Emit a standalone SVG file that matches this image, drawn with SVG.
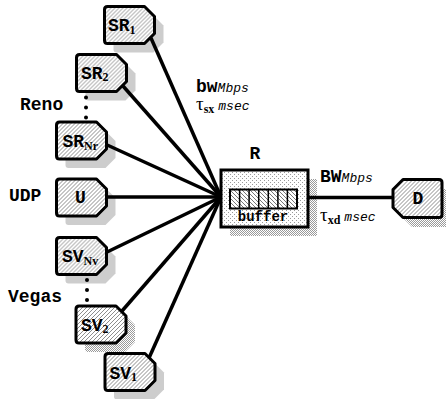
<svg xmlns="http://www.w3.org/2000/svg" xmlns:xlink="http://www.w3.org/1999/xlink" width="446" height="399" viewBox="0 0 446 399">
  <style>
    .node { fill: url(#hatch); stroke: #000; stroke-width: 3; stroke-linejoin: round; }
    .shadow { fill: url(#dither); stroke: none; }
    .link { stroke: #000; stroke-width: 3.5; fill: none; }
    .dot { fill: #000; }
    .lbl { font-family: "Liberation Mono", "Courier New", monospace; font-weight: bold; font-size: 18px; fill: #000; }
    .sub { font-family: "Liberation Serif", "Times New Roman", serif; font-weight: bold; font-size: 12px; }
    .side { font-family: "Liberation Mono", "Courier New", monospace; font-weight: bold; font-size: 18px; fill: #000; }
    .unit { font-family: "Liberation Mono", "Courier New", monospace; font-style: italic; font-weight: normal; font-size: 13px; }
    .tau { font-family: "Liberation Serif", "Times New Roman", serif; font-size: 19px; font-weight: normal; }
    .small { font-family: "Liberation Mono", "Courier New", monospace; font-weight: bold; font-size: 14px; fill: #000; }
  </style>
  <defs>
    <!-- light diagonal hatch used inside the end hosts -->
    <pattern id="hatch" patternUnits="userSpaceOnUse" width="4" height="4">
      <rect width="4" height="4" fill="#fff"/>
      <path d="M-1,1 L1,-1 M0,4 L4,0 M3,5 L5,3" stroke="#808080" stroke-width="0.9"/>
    </pattern>
    <!-- back-slash hatch for the queue slots -->
    <pattern id="slot" patternUnits="userSpaceOnUse" width="4" height="4">
      <rect width="4" height="4" fill="#fff"/>
      <path d="M-1,3 L1,5 M0,0 L4,4 M3,-1 L5,1" stroke="#555" stroke-width="0.8"/>
    </pattern>
    <!-- sparse dots for the router body -->
    <pattern id="speckle" patternUnits="userSpaceOnUse" width="4" height="4">
      <rect width="4" height="4" fill="#fff"/>
      <rect x="0" y="0" width="1" height="1" fill="#999"/>
      <rect x="2" y="2" width="1" height="1" fill="#999"/>
    </pattern>
    <!-- checker dither for drop shadows -->
    <pattern id="dither" patternUnits="userSpaceOnUse" width="2" height="2">
      <rect x="0" y="0" width="1" height="1" fill="#9a9a9a"/>
      <rect x="1" y="1" width="1" height="1" fill="#9a9a9a"/>
    </pattern>
    <!-- host outline, chamfered on the right -->
    <path id="hostR" d="M3,0 H40 L50,10 V27 L40,37 H3 Q0,37 0,34 V3 Q0,0 3,0 Z"/>
    <!-- host outline, chamfered on the left -->
    <path id="hostL" d="M10,0 H46 Q49,0 49,3 V35 Q49,38 46,38 H10 L0,28 V10 Z"/>
  </defs>

  <rect width="446" height="399" fill="#fff"/>

  <!-- drop shadows -->
  <g id="shadows" class="shadow">
    <use xlink:href="#hostR" href="#hostR" transform="translate(113.5,15.5)"/>
    <use xlink:href="#hostR" href="#hostR" transform="translate(85.5,63.5)"/>
    <use xlink:href="#hostR" href="#hostR" transform="translate(65.5,131)"/>
    <use xlink:href="#hostR" href="#hostR" transform="translate(65.5,188)"/>
    <use xlink:href="#hostR" href="#hostR" transform="translate(65.5,246.5)"/>
    <use xlink:href="#hostR" href="#hostR" transform="translate(85,315)"/>
    <use xlink:href="#hostR" href="#hostR" transform="translate(114,362.5)"/>
    <use xlink:href="#hostL" href="#hostL" transform="translate(402,189)"/>
    <rect x="230" y="179" width="87" height="57"/>
  </g>

  <!-- links -->
  <g id="connectors" class="link">
    <line x1="151" y1="38" x2="221" y2="197"/>
    <line x1="123" y1="86" x2="221" y2="197"/>
    <line x1="105" y1="144" x2="221" y2="197"/>
    <line x1="105" y1="197" x2="221" y2="197"/>
    <line x1="105" y1="253" x2="221" y2="197"/>
    <line x1="122" y1="311" x2="221" y2="197"/>
    <line x1="149" y1="358" x2="221" y2="197"/>
    <line x1="308" y1="197.5" x2="394" y2="197.5"/>
  </g>

  <!-- Reno group -->
  <g id="sr1" transform="translate(104.5,6.5)">
    <use xlink:href="#hostR" href="#hostR" class="node"/>
    <text class="lbl" x="3.5" y="24.5">SR<tspan class="sub" dy="2.5">1</tspan></text>
  </g>
  <g id="sr2" transform="translate(76.5,54.5)">
    <use xlink:href="#hostR" href="#hostR" class="node"/>
    <text class="lbl" x="4.5" y="24">SR<tspan class="sub" dy="2.5">2</tspan></text>
  </g>
  <g id="srnr" transform="translate(56.5,122)">
    <use xlink:href="#hostR" href="#hostR" class="node"/>
    <text class="lbl" x="6" y="25">SR<tspan class="sub" dy="2.5">Nr</tspan></text>
  </g>
  <g id="reno-dots" class="dot">
    <circle cx="86" cy="97.5" r="2"/>
    <circle cx="86" cy="107.5" r="2"/>
    <circle cx="86" cy="117.5" r="2"/>
  </g>
  <text class="side" x="20" y="110">Reno</text>

  <!-- UDP source -->
  <g id="u" transform="translate(56.5,179)">
    <use xlink:href="#hostR" href="#hostR" class="node"/>
    <text class="lbl" x="24" y="24" text-anchor="middle">U</text>
  </g>
  <text class="side" x="9" y="201">UDP</text>

  <!-- Vegas group -->
  <g id="svnv" transform="translate(56.5,237.5)">
    <use xlink:href="#hostR" href="#hostR" class="node"/>
    <text class="lbl" x="5.5" y="24.5">SV<tspan class="sub" dy="2.5">Nv</tspan></text>
  </g>
  <g id="sv2" transform="translate(76,306)">
    <use xlink:href="#hostR" href="#hostR" class="node"/>
    <text class="lbl" x="5" y="24.5">SV<tspan class="sub" dy="2.5">2</tspan></text>
  </g>
  <g id="sv1" transform="translate(105,353.5)">
    <use xlink:href="#hostR" href="#hostR" class="node"/>
    <text class="lbl" x="4.5" y="25">SV<tspan class="sub" dy="2.5">1</tspan></text>
  </g>
  <g id="vegas-dots" class="dot">
    <circle cx="87" cy="280" r="2"/>
    <circle cx="87" cy="290" r="2"/>
    <circle cx="87" cy="300" r="2"/>
  </g>
  <text class="side" x="8" y="302">Vegas</text>

  <!-- access link annotation -->
  <text class="side" x="196" y="92">bw<tspan class="unit">Mbps</tspan></text>
  <text x="196" y="110"><tspan class="tau">τ</tspan><tspan class="sub" dy="2.5">sx</tspan><tspan class="unit" dx="4" dy="-2.5">msec</tspan></text>

  <!-- router with its queue -->
  <g id="router">
    <rect x="221" y="170" width="87" height="57" fill="url(#speckle)" stroke="#000" stroke-width="3"/>
    <text class="side" x="255" y="159" text-anchor="middle">R</text>
    <rect x="230" y="189.5" width="67" height="19" fill="url(#slot)" stroke="#000" stroke-width="2"/>
    <path d="M239.6,189.5 V208.5 M249.1,189.5 V208.5 M258.7,189.5 V208.5 M268.3,189.5 V208.5 M277.9,189.5 V208.5 M287.4,189.5 V208.5" stroke="#000" stroke-width="1.5"/>
    <text class="small" x="263" y="220.5" text-anchor="middle">buffer</text>
  </g>

  <!-- bottleneck link annotation -->
  <text class="side" x="320" y="181.5">BW<tspan class="unit">Mbps</tspan></text>
  <text x="320" y="221"><tspan class="tau">τ</tspan><tspan class="sub" dy="2.5">xd</tspan><tspan class="unit" dx="4" dy="-2.5">msec</tspan></text>

  <!-- sink -->
  <g id="d" transform="translate(393,179.5)">
    <use xlink:href="#hostL" href="#hostL" class="node"/>
    <text class="lbl" x="25" y="24" text-anchor="middle">D</text>
  </g>
</svg>
